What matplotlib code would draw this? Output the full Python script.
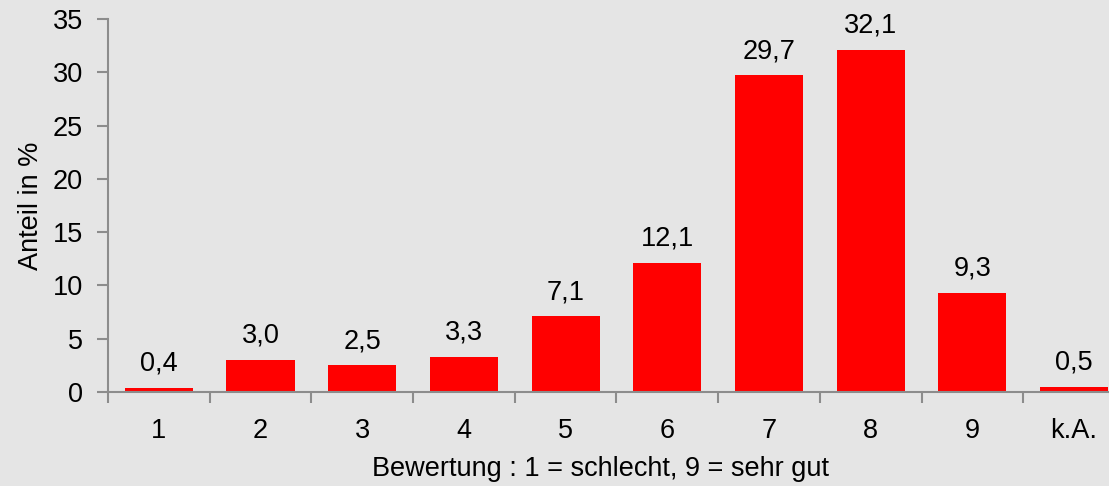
import matplotlib
matplotlib.use('Agg')
import matplotlib.pyplot as plt

plt.rcParams['font.family'] = ['Liberation Sans', 'DejaVu Sans']

# Rating distribution
categories = ['1', '2', '3', '4', '5', '6', '7', '8', '9', 'k.A.']
shares = [0.4, 3.0, 2.5, 3.3, 7.1, 12.1, 29.7, 32.1, 9.3, 0.5]

bg = '#e5e5e5'
axis_grey = '#8c8c8c'
fs = 19.5

fig = plt.figure(figsize=(11.09, 4.86), dpi=100, facecolor=bg)
ax = fig.add_axes([0.0974, 0.1934, 0.917, 0.7675])
ax.set_facecolor(bg)

x = list(range(len(categories)))
bars = ax.bar(x, shares, width=0.67, color='#ff0000')

for xi, v in zip(x, shares):
    ax.annotate(f'{v:.1f}'.replace('.', ','), (xi, v), xytext=(0, 8),
                textcoords='offset points', ha='center', va='bottom', fontsize=fs)

ax.set_xlim(-0.5, len(categories) - 0.5)
ax.set_ylim(0, 35)
ax.set_yticks(range(0, 36, 5))

# category labels centred, tick marks on the boundaries
ax.set_xticks(x)
ax.set_xticklabels(categories, fontsize=fs)
ax.tick_params(axis='x', which='major', length=0, pad=19)
ax.set_xticks([i - 0.5 for i in range(len(categories) + 1)], minor=True)
ax.tick_params(axis='x', which='minor', length=8, width=1.5, color=axis_grey, direction='out')
ax.tick_params(axis='y', length=8, width=1.5, color=axis_grey, labelsize=fs, pad=10)

for side in ['top', 'right']:
    ax.spines[side].set_visible(False)
for side in ['left', 'bottom']:
    ax.spines[side].set_color(axis_grey)
    ax.spines[side].set_linewidth(1.5)

ax.set_ylabel('Anteil in %', fontsize=fs, labelpad=6)
ax.set_xlabel('Bewertung : 1 = schlecht, 9 = sehr gut', fontsize=fs)
ax.xaxis.set_label_coords(0.484, -0.172)

plt.savefig('out.png', facecolor=bg)
plt.close()
